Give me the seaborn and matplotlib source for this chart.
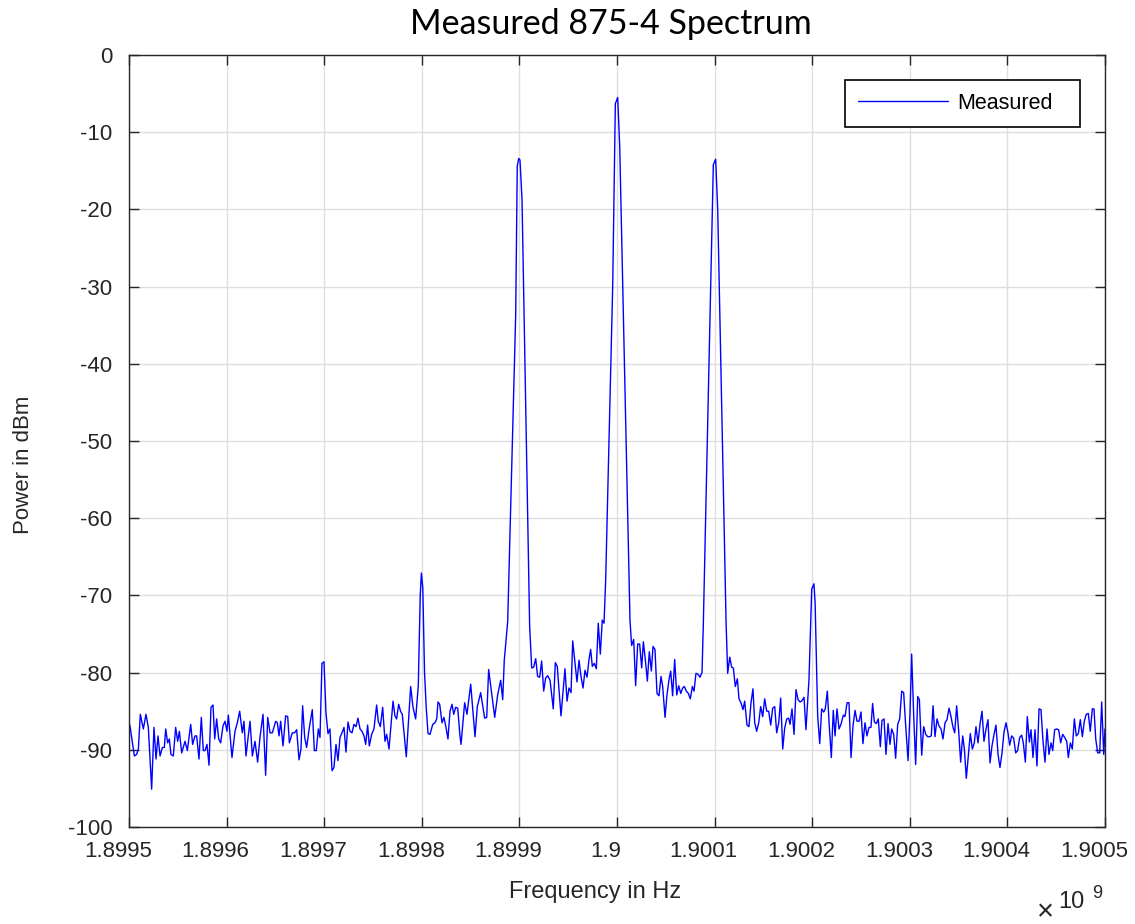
import matplotlib
matplotlib.use("Agg")
import matplotlib.pyplot as plt
import matplotlib.transforms as mtransforms
import numpy as np
import pandas as pd
import seaborn as sns

# ---------------- data ----------------
start_hz = 1.8995e9
# frequency offset from 1.8995 GHz, in kHz
freq_khz = [
    0.0, 1.0, 5.5, 7.8, 9.6, 11.6, 14.7, 17.4, 19.8, 23.2, 25.6, 27.7, 29.7, 31.8, 34.2,
    36.2, 37.6, 39.6, 41.3, 43.0, 45.4, 47.8, 49.9, 51.6, 54.0, 57.4, 59.8, 63.2, 65.2,
    67.6, 69.3, 71.7, 74.1, 76.1, 77.9, 79.9, 82.0, 84.0, 86.1, 87.8, 89.8, 91.9, 93.9,
    96.3, 98.4, 100.4, 101.8, 105.5, 108.6, 111.0, 113.4, 116.1, 117.8, 119.9, 122.2,
    124.0, 126.4, 129.1, 131.8, 134.2, 137.3, 140.0, 142.1, 144.5, 146.9, 150.3, 152.0,
    153.7, 155.4, 157.8, 160.5, 162.6, 164.3, 167.3,
    169.7, 171.8, 174.2, 176.2, 177.9, 180.0, 182.0, 184.8, 187.8, 189.9, 191.9, 194.0,
    195.7, 197.7, 199.8, 201.8, 203.9, 205.9, 208.0, 210.0, 212.1, 214.1, 216.2, 218.2,
    220.3, 222.3, 224.4, 226.4, 228.5, 230.5, 232.6, 234.6, 236.7, 238.7, 240.8, 242.5,
    244.5, 246.2, 248.6, 251.0, 253.7, 255.4, 257.5, 259.9, 262.3, 264.0, 266.4, 270.5,
    272.5, 274.2, 276.3, 278.2, 280.0, 284.1, 288.6, 291.0, 293.7, 296.4, 298.4, 299.6,
    301.0, 302.8, 304.6, 306.4, 308.4, 311.2, 313.5, 315.3, 316.6, 318.3, 320.7, 322.7,
    324.8, 326.8, 328.9, 331.0, 332.7, 334.7, 336.8, 339.1,
    340.2, 343.9, 346.3, 350.1, 354.5, 356.9, 360.3, 364.4, 366.5, 368.5, 371.6, 374.7,
    377.7, 380.8, 382.9, 384.5, 388.0, 396.2, 397.8, 399.3, 400.6, 402.7, 410.5, 412.6,
    414.6, 416.7, 418.7, 420.8, 422.8, 424.9, 426.9, 429.0, 431.4, 434.7, 436.8, 438.8,
    442.6, 446.7, 448.8, 450.8, 452.9, 454.6, 459.0, 461.1, 463.1, 465.2, 467.2, 469.3,
    471.3, 473.0, 474.7, 476.7, 478.8, 480.8, 482.9, 484.9, 486.7, 488.4, 495.6, 498.3,
    500.7, 502.8,
    513.3, 515.0, 517.1, 519.1, 521.2, 523.2, 525.3, 527.0, 529.0, 531.1, 533.1, 535.2,
    536.9, 538.9, 541.0, 543.0, 545.1, 546.8, 549.2, 551.2, 553.3, 555.0, 557.0, 559.1,
    561.2, 563.2, 565.3, 567.3, 569.0, 571.0, 573.1, 575.1, 577.2, 578.9, 580.9, 583.0,
    585.0, 587.1, 588.4, 595.3, 598.7, 601.1, 603.2, 611.7, 613.4, 615.5, 617.5, 619.2,
    621.2, 623.3, 625.0, 627.0, 629.1, 630.8, 633.2, 635.2, 637.3, 639.3, 641.1, 643.1,
    645.2, 647.2, 649.3, 651.3, 653.4, 655.4, 657.5, 659.5, 661.6, 663.6, 665.7, 667.7,
    669.8, 671.8, 673.9, 675.9,
    677.3, 679.3, 681.4, 683.4, 685.5, 687.5, 689.2, 691.6, 693.6, 696.7, 699.5, 701.8,
    703.0, 705.6, 707.7, 709.7, 711.8, 713.4, 715.5, 717.5, 719.6, 721.6, 723.4, 725.4,
    727.5, 729.5, 731.9, 733.6, 735.7, 737.7, 739.8, 741.8, 743.9, 745.9, 748.0, 750.0,
    752.0, 754.1, 756.1, 758.2, 760.2, 761.9, 763.7, 765.7, 767.7, 769.8, 771.5, 773.6,
    775.6, 777.7, 779.7, 781.4, 783.5, 785.5, 787.6, 789.6, 791.7, 793.7, 795.8, 798.2,
    800.2, 801.9, 804.0, 806.0, 808.1, 809.8, 812.2, 814.2, 816.3, 818.3, 820.4, 822.0,
    823.8, 825.8, 827.9, 829.9, 832.0, 834.0, 836.1, 838.1, 840.2, 842.2, 844.3,
    846.0, 848.0, 850.1, 852.1, 854.2, 855.9, 857.9, 860.0, 862.0, 864.1, 866.1, 867.8,
    869.9, 871.9, 874.0, 876.0, 878.1, 880.1, 882.2, 884.2, 886.3, 888.3, 890.4, 892.4,
    894.5, 896.5, 898.6, 900.6, 902.3, 904.4, 906.4, 908.5, 910.5, 912.6, 914.6, 916.3,
    918.4, 920.4, 922.5, 924.2, 926.2, 928.3, 930.3, 932.4, 934.4, 936.5, 938.5, 940.6,
    942.6, 944.7, 946.4, 948.4, 950.5, 952.5, 954.6, 956.6, 958.7, 960.8, 962.4, 964.5,
    966.5, 968.6, 970.6, 972.7, 974.7, 976.8, 978.8, 980.8, 982.9, 984.9, 987.0, 988.7,
    990.5, 992.5, 994.6, 996.6, 998.7, 1000.0,
]
power_dbm = [
    -86.5, -86.9, -90.8, -90.6, -89.9, -85.4, -87.3, -85.4, -87.1, -95.1, -87.1, -91.2, -88.2, -90.8, -89.7,
    -89.7, -87.3, -89.1, -88.6, -90.6, -90.8, -87.1, -88.9, -87.6, -90.4, -88.9, -90.1, -86.7, -89.3,
    -88.2, -88.2, -91.2, -85.8, -90.1, -90.1, -89.3, -92.0, -84.5, -84.2, -88.6, -86.0, -88.6, -89.1,
    -86.9, -86.3, -87.6, -85.5, -91.0, -87.6, -86.5, -85.0, -87.8, -86.3, -90.8, -88.2,
    -86.3, -90.8, -88.9, -91.6, -88.4, -85.4, -93.3, -85.8, -87.8, -87.8, -86.3, -86.5,
    -88.2, -86.3, -89.5, -85.6, -85.7, -89.1, -87.8,
    -87.8, -87.4, -91.3, -89.9, -84.3, -88.4, -89.7, -87.1, -84.8, -90.1, -90.1, -87.3,
    -88.4, -78.8, -78.6, -85.2, -87.9, -87.3, -92.7, -92.3, -89.3, -91.4, -88.4, -87.8,
    -87.1, -90.3, -86.4, -87.6, -87.8, -86.7, -87.0, -85.9, -87.3, -87.6, -88.2, -89.3,
    -86.8, -89.5, -88.0, -87.3, -84.2, -86.3, -87.0, -84.5, -88.9, -88.0, -89.9, -83.7,
    -85.6, -86.0, -84.1, -85.0, -85.4, -90.9, -81.8, -84.5, -86.0, -81.7, -70.0, -67.1,
    -69.0, -80.0, -84.7, -87.9, -88.0, -86.7, -86.5, -86.0, -83.8, -84.1, -86.5, -85.8,
    -87.1, -88.6, -85.0, -84.1, -85.4, -84.5, -84.6, -88.2,
    -89.3, -83.9, -85.4, -81.5, -88.3, -84.4, -82.6, -85.9, -85.8, -79.6, -82.7, -85.8,
    -82.9, -81.0, -83.5, -78.4, -73.4, -33.7, -14.4, -13.4, -13.6, -18.8, -74.0, -79.4,
    -79.3, -78.2, -80.5, -80.6, -78.5, -82.4, -80.7, -80.4, -81.0, -84.7, -78.7, -79.2,
    -85.6, -79.5, -83.7, -82.0, -82.6, -75.9, -81.2, -78.4, -80.5, -82.0, -79.7, -80.6,
    -78.3, -77.0, -79.2, -78.8, -79.5, -73.6, -77.6, -73.2, -73.6, -68.0, -29.9, -6.3,
    -5.5, -11.9,
    -73.2, -76.5, -75.7, -81.7, -76.3, -76.3, -79.4, -76.0, -78.3, -81.1, -77.3, -79.8,
    -76.6, -77.0, -82.7, -83.0, -80.5, -81.8, -85.8, -82.9, -80.9, -79.8, -83.0, -78.3,
    -82.9, -81.7, -82.7, -82.0, -81.8, -82.4, -82.7, -83.4, -81.8, -82.4, -80.1, -80.2,
    -80.6, -80.0, -74.0, -33.9, -14.2, -13.5, -20.1, -73.2, -80.1, -78.0, -79.3, -79.4,
    -81.8, -80.8, -83.4, -83.9, -84.8, -83.7, -86.8, -87.0, -83.9, -82.1, -86.5, -87.6,
    -86.5, -84.4, -85.7, -83.4, -85.0, -85.0, -86.8, -84.6, -84.4, -87.8, -86.5, -83.3,
    -89.9, -87.2, -86.0, -85.9,
    -86.7, -84.7, -88.0, -82.2, -83.5, -83.8, -83.7, -83.2, -87.4, -80.9, -69.2, -68.5,
    -71.0, -85.6, -89.2, -84.7, -85.1, -84.7, -82.4, -86.9, -91.0, -84.9, -88.2, -84.7,
    -87.3, -86.7, -85.5, -85.7, -83.9, -83.9, -91.0, -86.9, -84.9, -86.3, -86.3, -85.1,
    -89.2, -86.5, -88.2, -87.1, -87.1, -84.0, -86.4, -86.6, -86.0, -89.6, -86.2, -86.0,
    -90.6, -86.6, -89.3, -87.3, -88.0, -91.1, -86.7, -86.0, -82.4, -82.6, -86.9, -91.4,
    -85.2, -77.6, -85.6, -91.9, -83.1, -83.5, -90.7, -87.0, -88.0, -88.3, -88.3, -88.2,
    -84.3, -88.3, -86.0, -86.9, -87.3, -88.6, -86.5, -86.1, -84.6, -85.7, -87.1,
    -87.8, -84.3, -87.6, -91.6, -88.2, -89.9, -93.7, -90.8, -87.9, -89.9, -89.1, -87.0,
    -89.1, -86.7, -85.0, -88.9, -87.3, -86.1, -91.7, -89.5, -88.0, -86.8, -90.6, -92.3,
    -90.4, -87.7, -86.5, -87.8, -89.4, -88.2, -88.5, -90.4, -90.1, -88.4, -88.1, -89.1,
    -91.6, -85.7, -89.0, -87.4, -91.0, -87.4, -92.1, -84.7, -84.8, -88.9, -91.6, -87.3,
    -90.6, -89.1, -90.1, -87.4, -87.3, -87.4, -89.1, -88.0, -88.4, -88.9, -91.0, -89.1,
    -89.9, -86.0, -88.2, -87.9, -86.1, -88.3, -86.3, -85.4, -85.3, -87.6, -84.7, -84.7,
    -88.6, -90.4, -90.4, -83.8, -90.6, -87.3,
]

xtick_labels = ["1.8995", "1.8996", "1.8997", "1.8998", "1.8999", "1.9",
                "1.9001", "1.9002", "1.9003", "1.9004", "1.9005"]
ytick_values = [0, -10, -20, -30, -40, -50, -60, -70, -80, -90, -100]

title_text = "Measured 875-4 Spectrum"
xlabel_text = "Frequency in Hz"
ylabel_text = "Power in dBm"
series_name = "Measured"

# ---------------- figure ----------------
sns.set_theme(style="whitegrid")
plt.rcParams["font.family"] = ["Liberation Sans", "DejaVu Sans"]
plt.rcParams["axes.unicode_minus"] = False
plt.rcParams["xtick.direction"] = "in"
plt.rcParams["ytick.direction"] = "in"
plt.rcParams["xtick.major.pad"] = 10
plt.rcParams["ytick.major.pad"] = 12

W, H = 1135, 924
fig = plt.figure(figsize=(W / 100, H / 100), dpi=100)
fig.patch.set_facecolor("white")
ax = fig.add_axes([129 / W, 1 - 827 / H, (1105 - 129) / W, (827 - 55) / H])
ax.set_facecolor("white")

df = pd.DataFrame({
    "Frequency": start_hz + np.asarray(freq_khz) * 1e3,
    "Power": power_dbm,
})
sns.lineplot(data=df, x="Frequency", y="Power", ax=ax, color="#0000ff",
             linewidth=1.0, label=series_name, sort=False, estimator=None)

xt = [float(s) * 1e9 for s in xtick_labels]
ax.set_xticks(xt)
ax.set_xticklabels(xtick_labels)
ax.set_yticks(ytick_values)
ax.set_yticklabels([str(v) for v in ytick_values])
ax.set_xlim(xt[0], xt[-1])
ax.set_ylim(min(ytick_values), max(ytick_values))

ax.grid(True, color="#dedede", linewidth=1.0)
ax.set_axisbelow(True)
for s in ax.spines.values():
    s.set_visible(True)
    s.set_color("#262626")
    s.set_linewidth(1.0)
ax.tick_params(axis="both", direction="in", length=7, width=1.0,
               color="#262626", labelcolor="#262626", labelsize=16,
               top=True, right=True, bottom=True, left=True)
ax.tick_params(axis="x", pad=10)
ax.tick_params(axis="y", pad=12)

ax.set_xlabel(xlabel_text, fontsize=17, color="#262626", va="center")
ax.xaxis.set_label_coords(0.478, (827 - 892) / 772)
ax.set_ylabel(ylabel_text, fontsize=16, color="#262626", va="center")
ax.yaxis.set_label_coords((24 - 129) / 976, (827 - 465) / 772)

ax.set_title(title_text, fontsize=24.5, family=["Lato", "DejaVu Sans"],
             color="black", pad=15, x=(611 - 129) / 976)

leg = ax.legend(loc="upper left",
                bbox_to_anchor=((845 - 129) / 976, (827 - 125) / 772, 235 / 976, 45 / 772),
                mode="expand", borderaxespad=0, fontsize=15.5, frameon=True,
                fancybox=False, framealpha=1, edgecolor="black", handlelength=4.2,
                handletextpad=0.4, borderpad=0.6)
leg.get_frame().set_linewidth(1.2)
for t in leg.get_texts():
    t.set_color("black")

# the reference renders x tick labels slightly left of their ticks
shift = mtransforms.ScaledTranslation(-11 / 100, 0, fig.dpi_scale_trans)
for lbl in ax.get_xticklabels():
    lbl.set_transform(lbl.get_transform() + shift)

# exponent marker (x 10^9)
fig.text(1045 / W, 1 - 912 / H, "\u00d7", fontsize=21, color="#262626", ha="center", va="center")
fig.text(1071 / W, 1 - 902 / H, "10", fontsize=17, color="#262626", ha="center", va="center")
fig.text(1097 / W, 1 - 893 / H, "9", fontsize=13, color="#262626", ha="center", va="center")

fig.savefig("out.png", dpi=100, facecolor="white")
